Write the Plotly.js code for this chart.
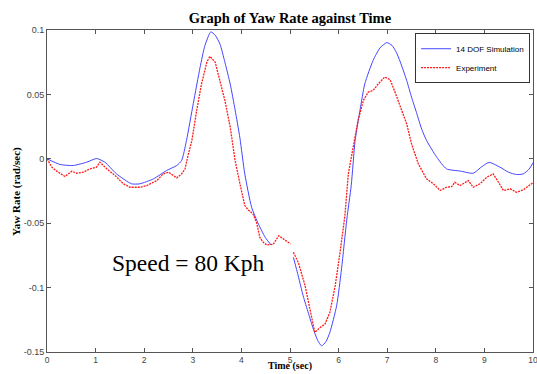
<!DOCTYPE html>
<html>
<head>
<meta charset="utf-8">
<script src="https://cdn.plot.ly/plotly-3.0.1.min.js"></script>
<style>html,body{margin:0;padding:0;background:#fff;}#chart{width:537px;height:374px;}</style>
</head>
<body>
<div id="chart"></div>
<script>
// Simulation (14 DOF) — null marks the gap in the trace
const simTime = [0, 0.27, 0.54, 0.82, 1.02, 1.19, 1.43, 1.74, 1.91, 2.19, 2.46, 2.67, 2.77, 2.87, 3.01, 3.15, 3.25, 3.37, 3.46, 3.56, 3.66, 3.77, 3.87, 3.97, 4.07, 4.21, 4.35, 4.49, 4.61, 4.64, 5.07, 5.17, 5.27, 5.38, 5.48, 5.57, 5.65, 5.74, 5.82, 5.96, 6.06, 6.17, 6.26, 6.34, 6.44, 6.54, 6.71, 6.85, 6.99, 7.10, 7.20, 7.30, 7.40, 7.50, 7.61, 7.71, 7.81, 8.02, 8.22, 8.50, 8.77, 8.95, 9.10, 9.32, 9.50, 9.66, 9.80, 9.92, 10];
const simYaw  = [0, -0.0044, -0.0052, -0.0026, 0.0002, -0.0026, -0.0117, -0.0194, -0.0194, -0.0156, -0.0091, -0.0052, -0.0013, 0.0142, 0.043, 0.071, 0.088, 0.0985, 0.096, 0.089, 0.075, 0.058, 0.038, 0.016, -0.0117, -0.0376, -0.0506, -0.061, -0.0669, null, -0.0765, -0.091, -0.1063, -0.120, -0.1322, -0.141, -0.1452, -0.142, -0.1348, -0.114, -0.0855, -0.0467, -0.0207, 0.0142, 0.0376, 0.0583, 0.0764, 0.086, 0.0902, 0.088, 0.0817, 0.072, 0.0609, 0.048, 0.035, 0.023, 0.0142, 0.0012, -0.0078, -0.0095, -0.0112, -0.006, -0.0028, -0.0065, -0.0105, -0.0122, -0.0117, -0.008, -0.0031];

// Experiment
const expTime = [0, 0.1, 0.2, 0.37, 0.51, 0.61, 0.75, 0.88, 1.02, 1.09, 1.23, 1.40, 1.57, 1.71, 1.91, 2.05, 2.26, 2.39, 2.50, 2.60, 2.67, 2.77, 2.84, 2.91, 2.98, 3.08, 3.18, 3.29, 3.35, 3.46, 3.56, 3.66, 3.77, 3.87, 3.97, 4.07, 4.14, 4.24, 4.31, 4.38, 4.45, 4.52, 4.60, 4.65, 4.77, 4.90, 5.01, 5.03, 5.07, 5.17, 5.31, 5.41, 5.51, 5.62, 5.72, 5.82, 5.93, 6.03, 6.13, 6.20, 6.30, 6.40, 6.51, 6.61, 6.71, 6.82, 6.95, 7.06, 7.16, 7.30, 7.40, 7.50, 7.64, 7.81, 7.95, 8.09, 8.22, 8.33, 8.39, 8.50, 8.67, 8.77, 8.91, 9.05, 9.18, 9.29, 9.39, 9.53, 9.66, 9.80, 9.97, 10];
const expYaw  = [0, -0.0065, -0.0096, -0.0138, -0.0096, -0.0112, -0.0104, -0.0078, -0.0065, -0.0026, -0.0078, -0.013, -0.0194, -0.0221, -0.0221, -0.0208, -0.0169, -0.0117, -0.0104, -0.013, -0.0148, -0.0117, -0.0078, 0.0039, 0.014, 0.0376, 0.0583, 0.0751, 0.0795, 0.0751, 0.0596, 0.0453, 0.0246, -0.0013, -0.0194, -0.0363, -0.0397, -0.0428, -0.0493, -0.061, -0.0649, -0.0669, -0.0665, -0.0666, -0.0597, -0.0631, -0.0661, null, -0.0726, -0.0804, -0.0985, -0.1166, -0.1348, -0.131, -0.1283, -0.1193, -0.0985, -0.0726, -0.0441, -0.0117, 0.009, 0.0298, 0.0453, 0.0518, 0.0531, 0.0583, 0.0635, 0.0614, 0.0518, 0.0376, 0.0272, 0.0117, -0.0039, -0.0156, -0.0194, -0.0246, -0.0221, -0.0215, -0.0182, -0.0208, -0.0169, -0.0221, -0.0194, -0.0143, -0.0117, -0.0182, -0.0246, -0.0233, -0.026, -0.0241, -0.0194, -0.0185];

const xTicks = [0, 1, 2, 3, 4, 5, 6, 7, 8, 9, 10];
const yTicks = [-0.15, -0.1, -0.05, 0, 0.05, 0.1];
const yTickText = ["-0.15", "-0.1", "-0.05", "0", "0.05", "0.1"];

const serif = 'Liberation Serif, Times New Roman, serif';
const sans = 'Liberation Sans, Arial, sans-serif';

const traces = [
  {x: simTime, y: simYaw, type: 'scatter', mode: 'lines', name: '14 DOF Simulation',
   line: {color: '#4646ff', width: 1, shape: 'spline', smoothing: 0.6}, connectgaps: false},
  {x: expTime, y: expYaw, type: 'scatter', mode: 'lines', name: 'Experiment',
   line: {color: '#ff1a1a', width: 1.3, dash: '2px,1px'}, connectgaps: false}
];

const axisCommon = {
  showgrid: false, zeroline: false, showline: true, mirror: 'ticks', automargin: false,
  linecolor: '#555', linewidth: 1, ticks: 'inside', ticklen: 4, tickcolor: '#555',
  tickfont: {family: sans, size: 9, color: '#444'}, ticklabeloverflow: 'allow'
};

const layout = {
  width: 537, height: 374,
  margin: {l: 47, r: 4, t: 30, b: 22},
  paper_bgcolor: '#fff', plot_bgcolor: '#fff',
  title: {text: '<b>Graph of Yaw Rate against Time</b>', font: {family: serif, size: 14.5, color: '#000'},
          x: 0.54, xanchor: 'center', y: 0.952, yanchor: 'middle'},
  xaxis: Object.assign({}, axisCommon, {range: [0, 10], tickvals: xTicks, ticktext: xTicks.map(String),
          tickfont: {family: sans, size: 8.5, color: '#444'}, ticklabelstandoff: 0}),
  yaxis: Object.assign({}, axisCommon, {range: [-0.15, 0.1], tickvals: yTicks, ticktext: yTickText}),
  showlegend: true,
  legend: {x: 0.994, y: 0.99, xanchor: 'right', yanchor: 'top', bgcolor: '#fff', bordercolor: '#333', borderwidth: 1,
           font: {family: sans, size: 8, color: '#000'}, itemwidth: 30, tracegroupgap: 0},
  annotations: [
    {x: 1.3, y: -0.0806, xref: 'x', yref: 'y', xanchor: 'left', yanchor: 'middle', showarrow: false,
     text: 'Speed = 80 Kph', font: {family: serif, size: 23.5, color: '#000'}},
    {x: 0.5, y: -0.0683, xref: 'paper', yref: 'paper', xanchor: 'center', yanchor: 'bottom', showarrow: false,
     text: '<b>Time (sec)</b>', font: {family: serif, size: 10, color: '#000'}},
    {x: -0.064, y: 0.5, xref: 'paper', yref: 'paper', xanchor: 'center', yanchor: 'middle', showarrow: false, textangle: -90,
     text: '<b>Yaw Rate (rad/sec)</b>', font: {family: serif, size: 11, color: '#000'}}
  ]
};

Plotly.newPlot('chart', traces, layout, {displayModeBar: false, staticPlot: true});
</script>
</body>
</html>
